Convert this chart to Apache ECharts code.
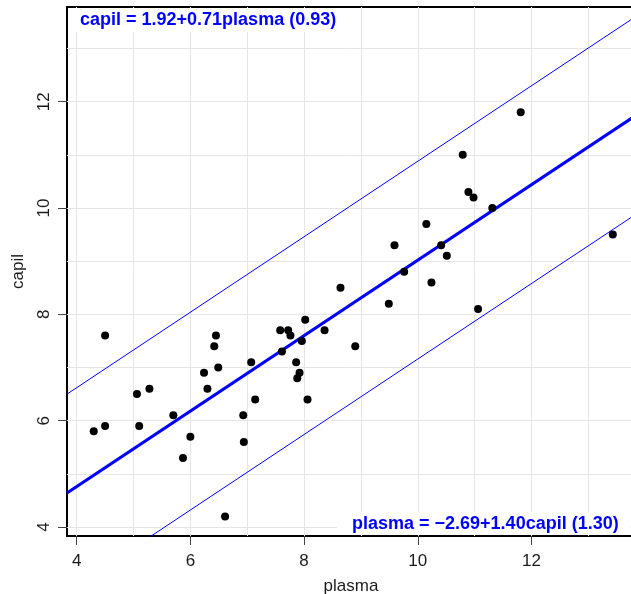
<!DOCTYPE html>
<html>
<head>
<meta charset="utf-8">
<script src="https://cdn.jsdelivr.net/npm/echarts@6/dist/echarts.min.js"></script>
<style>
html,body{margin:0;padding:0;background:#fff;}
#chart{width:631px;height:594px;}
</style>
</head>
<body>
<div id="chart"></div>
<script>
// ---- data ----
const plasma = [4.5,4.3,4.5,5.06,5.28,5.1,5.7,6.0,5.87,6.24,6.3,6.42,6.45,6.49,6.93,6.94,7.07,7.14,7.58,7.61,7.72,7.76,8.02,7.96,7.86,7.92,7.88,8.06,8.36,8.64,8.9,6.61,11.81,10.79,10.89,10.98,11.31,10.15,9.59,10.41,10.51,9.76,10.24,9.49,11.06,13.43];
const capil  = [7.6,5.8,5.9,6.5,6.6,5.9,6.1,5.7,5.3,6.9,6.6,7.4,7.6,7.0,6.1,5.6,7.1,6.4,7.7,7.3,7.7,7.6,7.9,7.5,7.1,6.9,6.8,6.4,7.7,8.5,7.4,4.2,11.8,11.0,10.3,10.2,10.0,9.7,9.3,9.3,9.1,8.8,8.6,8.2,8.1,9.5];
const intercept = 1.92, slope = 0.71, resSd = 0.93;
const tickValues = [4,6,8,10,12];
const gridX = [4,5,6,7,8,9,10,11,12,13];
const gridY = [4,5,6,7,8,9,10,11,12,13];
const xRange = [3.83, 13.82];
const yRange = [3.831, 13.781];
const topLabel = 'capil = 1.92+0.71plasma (0.93)';
const bottomLabel = 'plasma = \u22122.69+1.40capil (1.30)';

const pts = plasma.map((p,i)=>[p,capil[i]]);
function lineAt(off){ return xRange.map(x=>[x, intercept + slope*x + off]); }

const FONT = 'Liberation Sans, Arial, Helvetica, sans-serif';
const chart = echarts.init(document.getElementById('chart'), null, {renderer:'canvas'});
chart.setOption({
  backgroundColor:'#fff',
  animation:false,
  textStyle:{fontFamily:FONT},
  title:[
    {text:topLabel, left:68, top:8, padding:[3,14,3,12], backgroundColor:'#fff',
     textStyle:{color:'#0000ff', fontWeight:'bold', fontSize:18, lineHeight:18, fontFamily:FONT}},
    {text:bottomLabel, left:337, top:512, padding:[3,12,2,15], backgroundColor:'#fff',
     textStyle:{color:'#0000ff', fontWeight:'bold', fontSize:18, lineHeight:18, fontFamily:FONT}}
  ],
  grid:{left:67, top:7, right:-4, bottom:58, show:true, borderColor:'#000', borderWidth:2,
        backgroundColor:'transparent', containLabel:false, outerBoundsMode:'none'},
  xAxis:{type:'value', min:xRange[0], max:xRange[1],
    name:'plasma', nameLocation:'middle', nameGap:42,
    nameTextStyle:{fontSize:17, color:'#1a1a1a', fontFamily:FONT},
    axisLine:{show:false},
    axisTick:{show:true, customValues:tickValues, length:9, lineStyle:{color:'#444'}},
    axisLabel:{customValues:tickValues, fontSize:17, color:'#1a1a1a', margin:17, fontFamily:FONT},
    splitLine:{show:false}},
  yAxis:{type:'value', min:yRange[0], max:yRange[1],
    name:'capil', nameLocation:'middle', nameGap:40,
    nameTextStyle:{fontSize:17, color:'#1a1a1a', fontFamily:FONT},
    axisLine:{show:false},
    axisTick:{show:true, customValues:tickValues, length:9, lineStyle:{color:'#444'}},
    axisLabel:{customValues:tickValues, rotate:90, fontSize:17, color:'#1a1a1a', margin:14, fontFamily:FONT},
    splitLine:{show:false}},
  series:[
    {type:'line', name:'grid', data:[], z:1, silent:true,
     markLine:{silent:true, z:1, symbol:['none','none'], label:{show:false},
       lineStyle:{color:'#e6e6e6', width:1, type:'solid'},
       data: gridX.map(v=>({xAxis:v})).concat(gridY.map(v=>({yAxis:v})))}},
    {type:'line', data:lineAt(2*resSd), showSymbol:false, z:3, lineStyle:{color:'#0000ff', width:1}},
    {type:'line', data:lineAt(-2*resSd), showSymbol:false, z:3, lineStyle:{color:'#0000ff', width:1}},
    {type:'line', data:lineAt(0), showSymbol:false, z:3, lineStyle:{color:'#0000ff', width:3.2}},
    {type:'scatter', data:pts, symbol:'circle', symbolSize:8, z:10, itemStyle:{color:'#000', opacity:1}}
  ]
});
</script>
</body>
</html>
